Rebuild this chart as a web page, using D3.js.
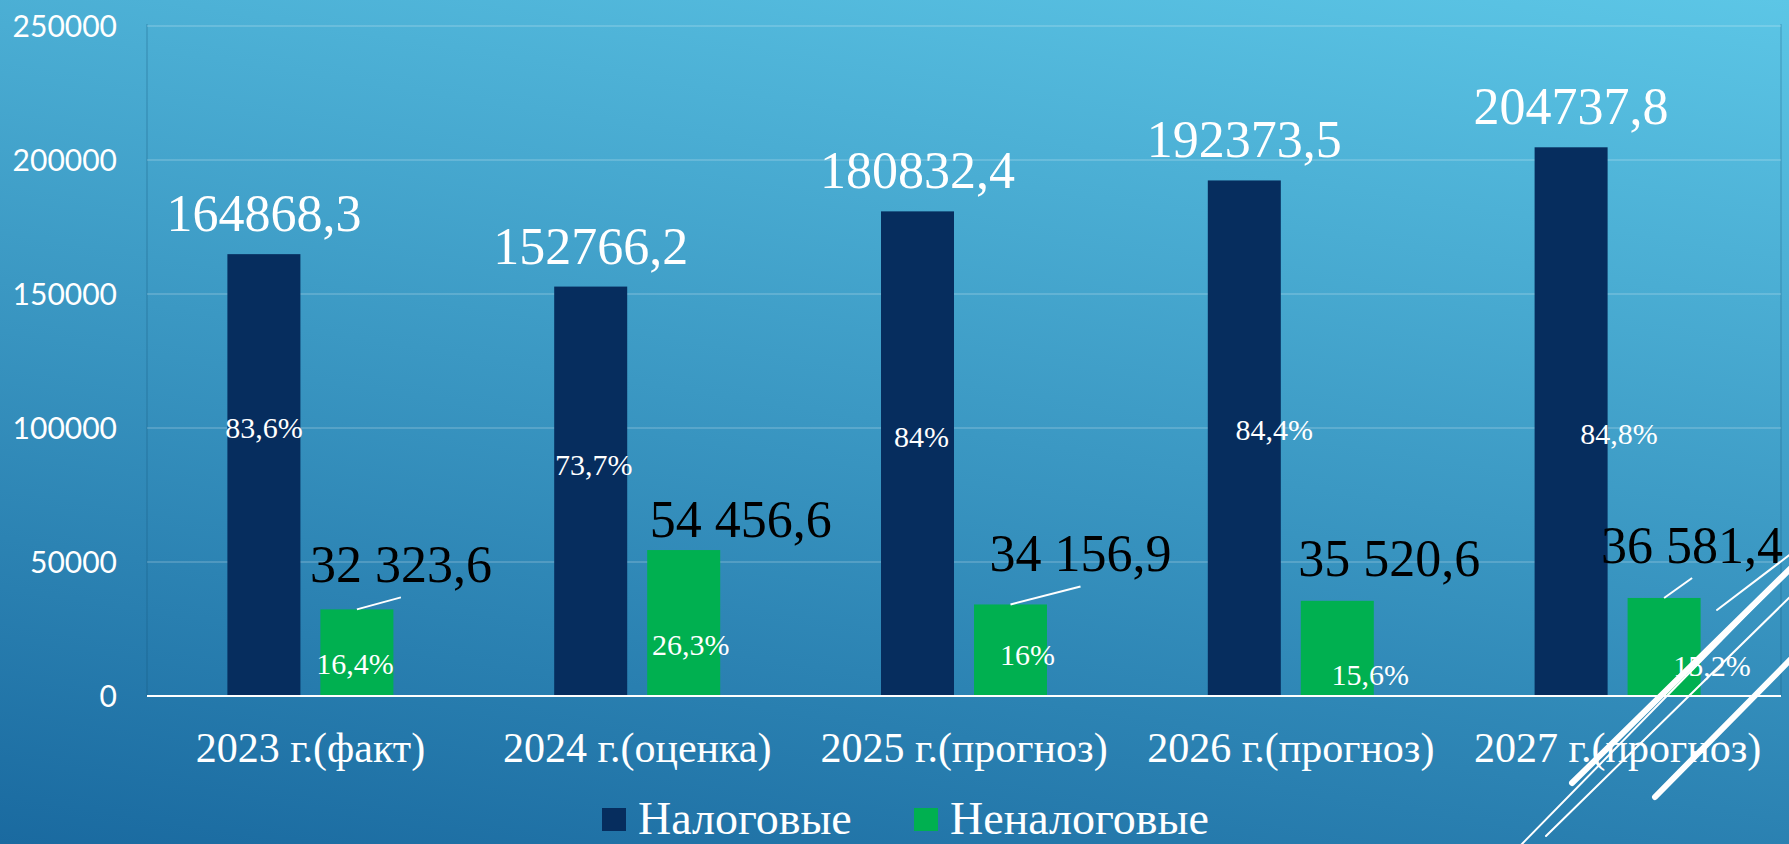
<!DOCTYPE html>
<html>
<head>
<meta charset="utf-8">
<script src="https://cdn.jsdelivr.net/npm/d3@7"></script>
<style>
  html, body { margin: 0; padding: 0; overflow: hidden; }
  svg { display: block; }
</style>
</head>
<body>
<svg id="chart" width="1789" height="844"></svg>
<script>
// ---- data ----
const categories = ["2023 г.(факт)", "2024 г.(оценка)", "2025 г.(прогноз)", "2026 г.(прогноз)", "2027 г.(прогноз)"];
const seriesNames = ["Налоговые", "Неналоговые"];
const taxValues = [164868.3, 152766.2, 180832.4, 192373.5, 204737.8];
const nonTaxValues = [32323.6, 54456.6, 34156.9, 35520.6, 36581.4];
const taxLabels = ["164868,3", "152766,2", "180832,4", "192373,5", "204737,8"];
const nonTaxLabels = ["32 323,6", "54 456,6", "34 156,9", "35 520,6", "36 581,4"];
const taxShares = ["83,6%", "73,7%", "84%", "84,4%", "84,8%"];
const nonTaxShares = ["16,4%", "26,3%", "16%", "15,6%", "15,2%"];
const yTicks = [0, 50000, 100000, 150000, 200000, 250000];

// ---- layout (label placement, as dragged in the original) ----
const taxShareOffset = [[0, -37], [3, -16], [4, -7], [30, 2], [48, 22]];      // from bar centre / middle
const nonTaxShareOffset = [[-2, 21], [7, 32], [17, 15], [33, 37], [48, 29]];
const nonTaxLabelOffset = [[44, -27], [57, -13], [70, -33], [52, -25], [28, -35]]; // from bar centre / top
const nonTaxLeader = [true, false, true, false, true];

const colors = { tax: "#062d5e", nonTax: "#00b050" };
const W = 1789, H = 844;
const plot = { left: 147, right: 1781, top: 26, bottom: 696 };

const svg = d3.select("#chart");
const defs = svg.append("defs");
const grad = defs.append("linearGradient").attr("id", "bg")
  .attr("gradientUnits", "userSpaceOnUse")
  .attr("x1", 1789).attr("y1", 0).attr("x2", 1616).attr("y2", 1098);
grad.append("stop").attr("offset", 0).attr("stop-color", "#5cc6e6");
grad.append("stop").attr("offset", 1).attr("stop-color", "#1a6aa0");
svg.append("rect").attr("width", W).attr("height", H).attr("fill", "url(#bg)");

const x = d3.scaleBand().domain(categories).range([plot.left, plot.right]).padding(0);
const xs = d3.scaleBand().domain(seriesNames).range([-83, 83]).paddingInner(20 / 93).paddingOuter(0);
const y = d3.scaleLinear().domain([0, 250000]).range([plot.bottom, plot.top]);

// plot frame (faint)
svg.append("line").attr("x1", plot.left).attr("x2", plot.left).attr("y1", plot.top - 2).attr("y2", plot.bottom)
  .attr("stroke", "rgba(20,80,120,0.25)").attr("stroke-width", 1.5);
svg.append("line").attr("x1", plot.right).attr("x2", plot.right).attr("y1", plot.top - 2).attr("y2", plot.bottom)
  .attr("stroke", "rgba(20,80,120,0.25)").attr("stroke-width", 1.5);

// gridlines
svg.append("g").selectAll("line").data(yTicks.filter(d => d > 0)).join("line")
  .attr("x1", plot.left).attr("x2", plot.right)
  .attr("y1", d => y(d)).attr("y2", d => y(d))
  .attr("stroke", "rgba(255,255,255,0.22)").attr("stroke-width", 1.5);

// y axis labels
const yAxis = d3.axisLeft(y).tickValues(yTicks).tickSize(0).tickPadding(0).tickFormat(d3.format("d"));
const gy = svg.append("g").attr("transform", `translate(117,0)`).call(yAxis);
gy.select(".domain").remove();
gy.selectAll("text").attr("fill", "#ffffff").attr("font-family", "Lato, 'Open Sans', sans-serif")
  .attr("font-size", 30).attr("dy", "0.36em").attr("text-anchor", "end");

// bars
const data = categories.map((c, i) => ({ c, i, tax: taxValues[i], nonTax: nonTaxValues[i] }));
const cx = d => x(d.c) + x.bandwidth() / 2;

svg.append("g").selectAll("rect").data(data).join("rect")
  .attr("x", d => cx(d) + xs(seriesNames[0])).attr("width", xs.bandwidth())
  .attr("y", d => y(d.tax)).attr("height", d => y(0) - y(d.tax)).attr("fill", colors.tax);
svg.append("g").selectAll("rect").data(data).join("rect")
  .attr("x", d => cx(d) + xs(seriesNames[1])).attr("width", xs.bandwidth())
  .attr("y", d => y(d.nonTax)).attr("height", d => y(0) - y(d.nonTax)).attr("fill", colors.nonTax);

// zero line
svg.append("line").attr("x1", plot.left).attr("x2", plot.right).attr("y1", y(0)).attr("y2", y(0))
  .attr("stroke", "#ffffff").attr("stroke-width", 2);

const serif = "'Liberation Serif', 'Times New Roman', serif";
const taxCx = d => cx(d) + xs(seriesNames[0]) + xs.bandwidth() / 2;
const nonCx = d => cx(d) + xs(seriesNames[1]) + xs.bandwidth() / 2;

// tax value labels
svg.append("g").selectAll("text").data(data).join("text")
  .attr("x", d => taxCx(d)).attr("y", d => y(d.tax) - 23)
  .attr("text-anchor", "middle").attr("font-family", serif).attr("font-size", 52).attr("fill", "#ffffff")
  .text(d => taxLabels[d.i]);

// non-tax value labels + leaders
svg.append("g").selectAll("line").data(data.filter(d => nonTaxLeader[d.i])).join("line")
  .attr("x1", d => nonCx(d)).attr("y1", d => y(d.nonTax))
  .attr("x2", d => nonCx(d) + nonTaxLabelOffset[d.i][0]).attr("y2", d => y(d.nonTax) + nonTaxLabelOffset[d.i][1] + 15)
  .attr("stroke", "#ffffff").attr("stroke-width", 2);
svg.append("g").selectAll("text").data(data).join("text")
  .attr("x", d => nonCx(d) + nonTaxLabelOffset[d.i][0]).attr("y", d => y(d.nonTax) + nonTaxLabelOffset[d.i][1])
  .attr("text-anchor", "middle").attr("font-family", serif).attr("font-size", 52).attr("fill", "#000000")
  .text(d => nonTaxLabels[d.i]);

// share labels
svg.append("g").selectAll("text").data(data).join("text")
  .attr("x", d => taxCx(d) + taxShareOffset[d.i][0])
  .attr("y", d => (y(d.tax) + y(0)) / 2 + taxShareOffset[d.i][1])
  .attr("text-anchor", "middle").attr("font-family", serif).attr("font-size", 30).attr("fill", "#ffffff")
  .text(d => taxShares[d.i]);
svg.append("g").selectAll("text").data(data).join("text")
  .attr("x", d => nonCx(d) + nonTaxShareOffset[d.i][0])
  .attr("y", d => (y(d.nonTax) + y(0)) / 2 + nonTaxShareOffset[d.i][1])
  .attr("text-anchor", "middle").attr("font-family", serif).attr("font-size", 30).attr("fill", "#ffffff")
  .text(d => nonTaxShares[d.i]);

// x axis labels
const xAxis = d3.axisBottom(x).tickSize(0).tickPadding(0);
const gx = svg.append("g").attr("transform", `translate(0,${plot.bottom})`).call(xAxis);
gx.select(".domain").remove();
gx.selectAll("text").attr("fill", "#ffffff").attr("font-family", serif).attr("font-size", 42)
  .attr("dy", null).attr("y", 66);

// legend
const legend = svg.append("g");
const legendItems = [
  { name: seriesNames[0], color: colors.tax, x: 602 },
  { name: seriesNames[1], color: colors.nonTax, x: 914 }
];
legendItems.forEach(it => {
  legend.append("rect").attr("x", it.x).attr("y", 808).attr("width", 24).attr("height", 23).attr("fill", it.color);
  legend.append("text").attr("x", it.x + 36).attr("y", 834).attr("font-family", serif).attr("font-size", 46)
    .attr("fill", "#ffffff").text(it.name);
});

// decorative diagonal lines (bottom-right)
const deco = svg.append("g").attr("stroke", "#ffffff").attr("stroke-linecap", "round");
[
  [1572, 783, 1792, 567, 6],
  [1655, 797, 1792, 658, 6],
  [1520, 846, 1792, 568, 2],
  [1546, 836, 1792, 595, 2],
  [1717, 610, 1792, 553, 2]
].forEach(([x1, y1, x2, y2, w]) => {
  deco.append("line").attr("x1", x1).attr("y1", y1).attr("x2", x2).attr("y2", y2).attr("stroke-width", w);
});
</script>
</body>
</html>
